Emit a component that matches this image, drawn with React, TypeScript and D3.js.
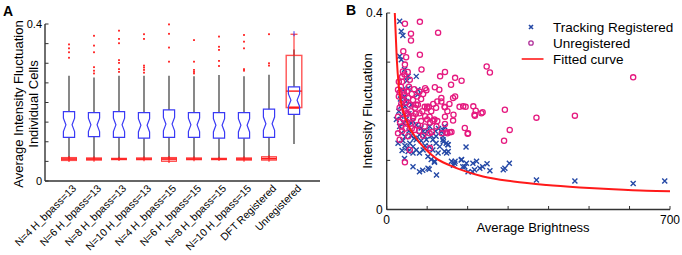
import React from 'react';
import * as d3 from 'd3';

// ---------- Panel A data ----------
const categories = ['N=4 H_bpass=13', 'N=6 H_bpass=13', 'N=8 H_bpass=13', 'N=10 H_bpass=13', 'N=4 H_bpass=15', 'N=6 H_bpass=15', 'N=8 H_bpass=15', 'N=10 H_bpass=15', 'DFT Registered', 'Unregistered'];
const boxQ1 = [0.111, 0.113, 0.111, 0.109, 0.111, 0.111, 0.109, 0.109, 0.111, 0.170];
const boxMedian = [0.143, 0.143, 0.143, 0.142, 0.145, 0.143, 0.142, 0.142, 0.146, 0.206];
const boxQ3 = [0.177, 0.174, 0.177, 0.174, 0.181, 0.174, 0.174, 0.174, 0.183, 0.240];
const notchHalf = [0.017, 0.017, 0.017, 0.017, 0.017, 0.017, 0.017, 0.017, 0.017, 0.016];
const whiskerHigh = [0.268, 0.264, 0.268, 0.268, 0.268, 0.267, 0.270, 0.267, 0.271, 0.335];
const whiskerLow = [0.057, 0.057, 0.057, 0.057, 0.057, 0.057, 0.057, 0.057, 0.058, 0.094];
const outliers = [
  [0.348, 0.338, 0.328, 0.314],
  [0.370, 0.345, 0.328, 0.290, 0.281, 0.274],
  [0.383, 0.362, 0.351, 0.308, 0.301, 0.285, 0.278],
  [0.374, 0.362, 0.294, 0.289, 0.283, 0.276],
  [0.399, 0.375, 0.340, 0.304],
  [0.359, 0.304, 0.283, 0.278, 0.274],
  [0.368, 0.342, 0.334, 0.306, 0.293],
  [0.372, 0.355, 0.338, 0.285, 0.281],
  [0.374, 0.300, 0.294],
  [],
];
// red (second) box plots: low, median, high, upper whisker
const redLow = [0.052, 0.053, 0.055, 0.054, 0.050, 0.054, 0.055, 0.053, 0.053, 0.187];
const redMedian = [0.056, 0.056, 0.056, 0.056, 0.056, 0.056, 0.056, 0.056, 0.057, 0.229];
const redHigh = [0.060, 0.059, 0.058, 0.059, 0.060, 0.059, 0.058, 0.059, 0.062, 0.320];
const redWhiskerHigh = [null, null, null, null, null, null, null, null, null, 0.374];
const yTicksA = [0, 0.05, 0.1, 0.15, 0.2, 0.25, 0.3, 0.35, 0.4];
const yTickLabelsA = [0, 0.4];

// ---------- Panel B data ----------
const trackingRegistered: [number, number][] = [
  [32, 0.383], [36, 0.363], [40, 0.354], [32, 0.312], [36, 0.305], [44, 0.285], [53, 0.271], [50, 0.262], [53, 0.247], [73, 0.271], [77, 0.244], [77, 0.234], [40, 0.244], [44, 0.230], [48, 0.22], [61, 0.213], [34, 0.225],
  [24, 0.183], [28, 0.135], [40, 0.14], [36, 0.155], [46, 0.148], [57, 0.135], [65, 0.128], [73, 0.142], [81, 0.152], [90, 0.159], [98, 0.142], [106, 0.128], [114, 0.121], [122, 0.135], [131, 0.128], [139, 0.149], [139, 0.162], [139, 0.142], [147, 0.135], [151, 0.132], [143, 0.118], [127, 0.115], [102, 0.108], [118, 0.098], [102, 0.084], [81, 0.077], [89, 0.080], [65, 0.087], [44, 0.104], [110, 0.102], [160, 0.098], [168, 0.094], [165, 0.090], [184, 0.101], [197, 0.094], [213, 0.094], [217, 0.081], [201, 0.077], [188, 0.087], [230, 0.084], [53, 0.118], [65, 0.115], [73, 0.121], [81, 0.115], [90, 0.121], [32, 0.169], [48, 0.183], [61, 0.176], [73, 0.172], [85, 0.166], [106, 0.169], [94, 0.149], [114, 0.142], [122, 0.149], [135, 0.159], [143, 0.169],
  [196, 0.127], [152, 0.132], [140, 0.138], [152, 0.118], [148, 0.115], [169, 0.098], [185, 0.102], [193, 0.087], [212, 0.077], [222, 0.098], [237, 0.087], [248, 0.093], [255, 0.079], [288, 0.081], [292, 0.084], [303, 0.094], [370, 0.060], [465, 0.058], [609, 0.053], [687, 0.058], [123, 0.070], [105, 0.082], [118, 0.096],
  [30, 0.2], [35, 0.19], [42, 0.175], [55, 0.16], [60, 0.15], [68, 0.145], [85, 0.14], [95, 0.13], [100, 0.16], [110, 0.15], [120, 0.16], [128, 0.165], [45, 0.13], [50, 0.125], [38, 0.12], [35, 0.21], [45, 0.21], [55, 0.195], [65, 0.18],
];
const unregistered: [number, number][] = [
  [45, 0.378], [82, 0.382], [60, 0.358], [127, 0.360], [60, 0.344], [41, 0.322], [82, 0.315], [45, 0.295], [86, 0.285], [144, 0.280], [132, 0.271], [247, 0.291], [255, 0.279], [169, 0.268], [185, 0.262], [159, 0.254], [609, 0.269], [95, 0.247], [119, 0.249], [130, 0.244], [169, 0.230], [144, 0.208], [100, 0.209], [189, 0.210], [214, 0.210], [220, 0.201], [237, 0.198], [218, 0.191], [292, 0.203], [370, 0.187], [465, 0.191], [165, 0.193], [144, 0.189], [193, 0.166], [304, 0.162],
  [40, 0.281], [44, 0.275], [38, 0.27], [57, 0.264], [28, 0.244], [32, 0.238], [44, 0.234], [53, 0.227], [65, 0.223], [77, 0.213], [94, 0.209], [104, 0.209], [122, 0.207], [135, 0.227], [143, 0.209], [164, 0.227], [180, 0.209], [195, 0.209], [32, 0.207], [40, 0.222], [48, 0.218], [57, 0.213], [70, 0.207], [81, 0.240], [98, 0.243],
  [290, 0.140], [200, 0.154], [156, 0.157], [148, 0.157], [136, 0.155], [144, 0.174], [164, 0.181], [123, 0.169], [107, 0.177], [115, 0.180], [107, 0.125], [57, 0.121], [45, 0.096],
  [135, 0.220], [217, 0.193], [234, 0.196], [201, 0.155], [160, 0.158], [150, 0.155], [118, 0.183], [125, 0.180], [106, 0.189], [100, 0.206], [73, 0.213], [81, 0.196], [65, 0.186], [48, 0.196], [28, 0.189], [36, 0.169], [28, 0.155], [32, 0.142], [53, 0.149], [69, 0.162], [77, 0.172], [94, 0.169], [106, 0.155], [112, 0.158],
  [30, 0.23], [35, 0.25], [38, 0.26], [42, 0.24], [50, 0.24], [55, 0.25], [62, 0.235], [68, 0.245], [75, 0.23], [85, 0.225], [90, 0.235], [36, 0.215], [45, 0.2], [52, 0.195], [60, 0.2], [66, 0.19], [72, 0.195], [88, 0.2], [40, 0.185], [50, 0.178], [58, 0.175], [62, 0.165], [33, 0.178], [38, 0.16], [46, 0.165], [85, 0.18], [95, 0.19], [110, 0.2], [115, 0.215], [125, 0.22], [150, 0.2], [155, 0.215], [30, 0.26], [48, 0.31], [52, 0.28], [100, 0.183], [90, 0.15], [80, 0.16],
];
const fittedCurve: [number, number][] = [
  [20, 0.400], [25, 0.305], [30, 0.250], [36, 0.215], [45, 0.190], [53, 0.172], [73, 0.145], [98, 0.121], [122, 0.104], [156, 0.090], [197, 0.077], [238, 0.067], [313, 0.057], [395, 0.050], [477, 0.045], [560, 0.041], [642, 0.038], [700, 0.037],
];
const xTicksB = [0, 100, 200, 300, 400, 500, 600, 700];
const xTickLabelsB = [0, 700];
const yTicksB = [0, 0.1, 0.2, 0.3, 0.4];
const yTickLabelsB = [0, 0.4];
const legendItems = ['Tracking Registered', 'Unregistered', 'Fitted curve'];

const FONT = 'Liberation Sans, Arial, Helvetica, sans-serif';
const BLUE_BOX = '#3a3af5';
const RED = '#ff1a1a';
const PINK = '#e5197f';
const NAVY = '#2448a6';
const AXIS = '#333';

export default function App() {
  // Panel A scales
  const xA = d3.scaleLinear().domain([0, 11]).range([44, 319]);
  const yA = d3.scaleLinear().domain([0, 0.4]).range([181, 24]);
  // Panel B scales
  const xB = d3.scaleLinear().domain([0, 700]).range([386.7, 670]);
  const yB = d3.scaleLinear().domain([0, 0.4]).range([209.5, 13]);

  const notchPath = (cx: number, w: number, q1: number, q3: number, med: number, nh: number) => {
    const k = w * 0.45;
    const p = d3.path();
    p.moveTo(cx - w, yA(q3));
    p.lineTo(cx + w, yA(q3));
    p.lineTo(cx + w, yA(med + nh));
    p.lineTo(cx + w - k, yA(med));
    p.lineTo(cx + w, yA(med - nh));
    p.lineTo(cx + w, yA(q1));
    p.lineTo(cx - w, yA(q1));
    p.lineTo(cx - w, yA(med - nh));
    p.lineTo(cx - w + k, yA(med));
    p.lineTo(cx - w, yA(med + nh));
    p.closePath();
    return p.toString();
  };

  const line = d3.line<[number, number]>().x(d => xB(d[0])).y(d => yB(d[1])).curve(d3.curveMonotoneX);

  return (
    <svg width={682} height={255} style={{ position: 'absolute', left: 0, top: 0, background: '#fff' }} fontFamily={FONT}>
      <rect x={0} y={0} width={682} height={255} fill="#fff" />
      {/* ===== Panel A ===== */}
      <text x={3} y={16} fontSize={14} fontWeight="bold">A</text>
      {categories.map((c, i) => {
        const cx = xA(i + 1);
        const isUnreg = redWhiskerHigh[i] != null;
        return (
          <g key={c}>
            {/* whiskers */}
            <line x1={cx} x2={cx} y1={yA(whiskerHigh[i])} y2={yA(boxQ3[i])} stroke="#555" strokeWidth={1.4} />
            <line x1={cx} x2={cx} y1={yA(boxQ1[i])} y2={yA(whiskerLow[i])} stroke="#555" strokeWidth={1.4} />
            {/* red boxes */}
            {isUnreg ? (
              <g>
                <line x1={cx} x2={cx} y1={yA(redWhiskerHigh[i] as number)} y2={yA(redHigh[i])} stroke={RED} strokeWidth={1} />
                <line x1={cx - 3.5} x2={cx + 3.5} y1={yA(redWhiskerHigh[i] as number)} y2={yA(redWhiskerHigh[i] as number)} stroke={RED} strokeWidth={1} />
                <line x1={cx} x2={cx} y1={yA(redWhiskerHigh[i] as number) - 3} y2={yA(redWhiskerHigh[i] as number) + 2} stroke={BLUE_BOX} strokeWidth={1} />
                <rect x={cx - 7.8} width={15.6} y={yA(redHigh[i])} height={yA(redLow[i]) - yA(redHigh[i])} fill="none" stroke={RED} strokeOpacity={0.75} strokeWidth={1.4} />
                <line x1={cx - 7.8} x2={cx + 7.8} y1={yA(redMedian[i])} y2={yA(redMedian[i])} stroke={RED} strokeWidth={1.4} />
                <line x1={cx - 5} x2={cx + 5} y1={yA(redLow[i])} y2={yA(redLow[i])} stroke={RED} strokeWidth={2.2} />
              </g>
            ) : (
              <g>
                <rect x={cx - 7.5} width={15} y={yA(redHigh[i])} height={Math.max(1.5, yA(redLow[i]) - yA(redHigh[i]))} fill={RED} fillOpacity={0.3} stroke={RED} strokeOpacity={0.8} strokeWidth={1} />
                <line x1={cx - 7.5} x2={cx + 7.5} y1={yA(redMedian[i])} y2={yA(redMedian[i])} stroke={RED} strokeWidth={1.6} />
                <line x1={cx} x2={cx} y1={yA(redHigh[i]) - 1.5} y2={yA(redLow[i]) + 1.5} stroke={RED} strokeOpacity={0.7} strokeWidth={1.5} />
              </g>
            )}
            {/* blue notched box */}
            <path d={notchPath(cx, 5.6, boxQ1[i], boxQ3[i], boxMedian[i], notchHalf[i])} fill="none" stroke={BLUE_BOX} strokeWidth={1.2} />
            {/* outliers */}
            {outliers[i].map((v, j) => (
              <rect key={j} x={cx - 0.9} y={yA(v) - 0.9} width={1.8} height={1.8} fill={RED} />
            ))}
          </g>
        );
      })}
      {/* axes A */}
      <line x1={45} x2={45} y1={yA(0.4)} y2={yA(0)} stroke={AXIS} strokeWidth={1.4} />
      <line x1={45} x2={320} y1={yA(0)} y2={yA(0)} stroke={AXIS} strokeWidth={1.4} />
      {yTicksA.map(t => (
        <line key={t} x1={45} x2={48.5} y1={yA(t)} y2={yA(t)} stroke={AXIS} strokeWidth={1} />
      ))}
      {yTickLabelsA.map(t => (
        <text key={t} x={42} y={yA(t)} dy="0.35em" textAnchor="end" fontSize={11}>{t}</text>
      ))}
      {categories.map((c, i) => (
        <text key={c} transform={`translate(${xA(i + 1) + 8},${189}) rotate(-45)`} textAnchor="end" fontSize={10.5}>{c}</text>
      ))}
      <text transform={`translate(23,${104}) rotate(-90)`} textAnchor="middle" fontSize={13}>Average Intensity Fluctuation</text>
      <text transform={`translate(37.5,${104}) rotate(-90)`} textAnchor="middle" fontSize={13}>Individual Cells</text>

      {/* ===== Panel B ===== */}
      <text x={346} y={15} fontSize={14} fontWeight="bold">B</text>
      {trackingRegistered.map((d, i) => {
        const x = xB(d[0]), y = yB(d[1]), s = 2.5;
        return (
          <path key={'t' + i} d={`M${x - s},${y - s}L${x + s},${y + s}M${x - s},${y + s}L${x + s},${y - s}`} stroke={NAVY} strokeWidth={1.4} fill="none" />
        );
      })}
      {unregistered.map((d, i) => (
        <circle key={'u' + i} cx={xB(d[0])} cy={yB(d[1])} r={2.6} fill="none" stroke={PINK} strokeWidth={1.3} />
      ))}
      <path d={line(fittedCurve) || ''} fill="none" stroke={RED} strokeWidth={2} />
      {/* axes B */}
      <line x1={xB(0)} x2={xB(0)} y1={yB(0.4)} y2={yB(0)} stroke={AXIS} strokeWidth={1.4} />
      <line x1={xB(0)} x2={xB(700)} y1={yB(0)} y2={yB(0)} stroke={AXIS} strokeWidth={1.4} />
      {yTicksB.map(t => (
        <line key={t} x1={xB(0)} x2={xB(0) + 3.5} y1={yB(t)} y2={yB(t)} stroke={AXIS} strokeWidth={1} />
      ))}
      {xTicksB.map(t => (
        <line key={t} x1={xB(t)} x2={xB(t)} y1={yB(0)} y2={yB(0) - 3.5} stroke={AXIS} strokeWidth={1} />
      ))}
      {yTickLabelsB.map(t => (
        <text key={t} x={xB(0) - 4} y={yB(t)} dy="0.35em" textAnchor="end" fontSize={12}>{t}</text>
      ))}
      {xTickLabelsB.map(t => (
        <text key={t} x={xB(t)} y={yB(0) + 14} textAnchor="middle" fontSize={12}>{t}</text>
      ))}
      <text x={533} y={232} textAnchor="middle" fontSize={13}>Average Brightness</text>
      <text transform={`translate(371.5,${111}) rotate(-90)`} textAnchor="middle" fontSize={13}>Intensity Fluctuation</text>
      {/* legend */}
      {legendItems.map((name, i) => {
        const ly = 27 + i * 16;
        return (
          <g key={name}>
            {i === 0 && <path d={`M${531 - 2},${ly - 2}L${531 + 2},${ly + 2}M${531 - 2},${ly + 2}L${531 + 2},${ly - 2}`} stroke={NAVY} strokeWidth={1.6} />}
            {i === 1 && <circle cx={531} cy={ly} r={2.2} fill="none" stroke="#b0309a" strokeWidth={1.3} />}
            {i === 2 && <line x1={521.7} x2={543.5} y1={ly} y2={ly} stroke={RED} strokeWidth={1.6} />}
            <text x={553} y={ly} dy="0.36em" fontSize={13.5}>{name}</text>
          </g>
        );
      })}
    </svg>
  );
}
